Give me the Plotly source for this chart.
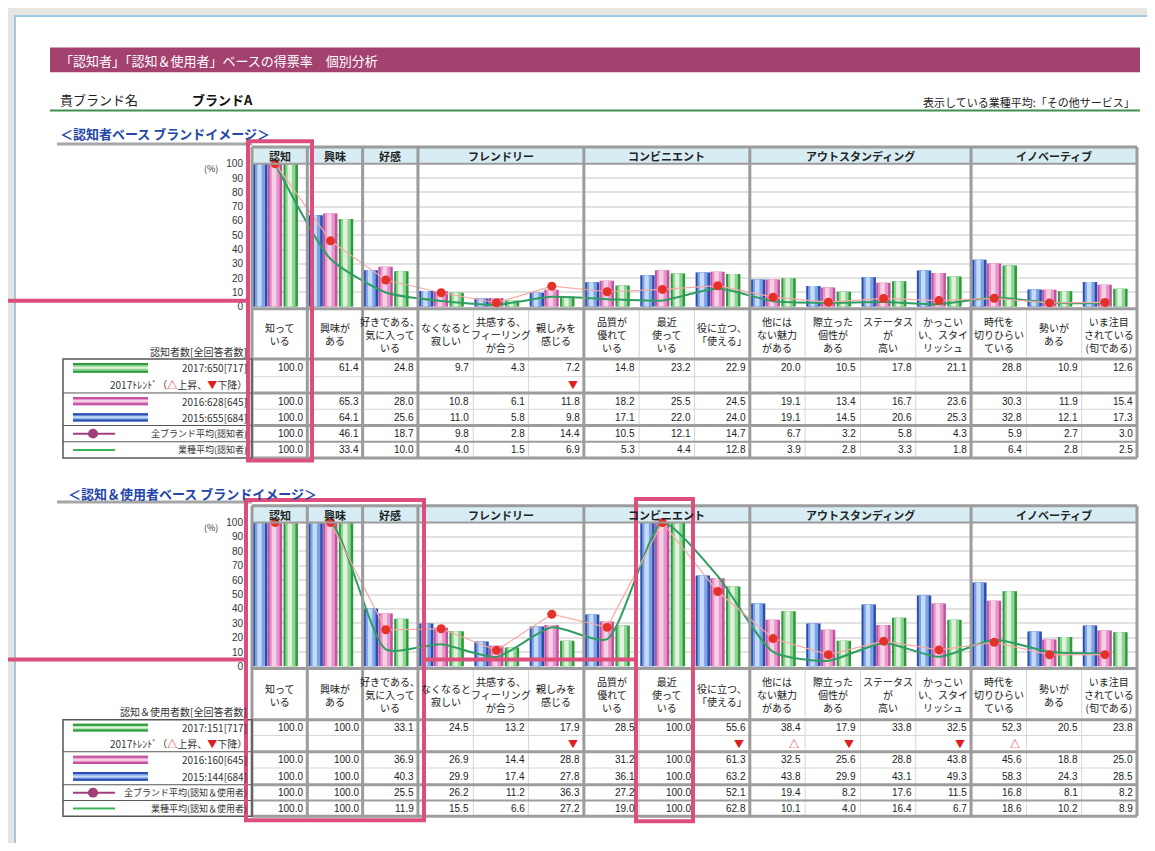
import plotly.graph_objects as go

# ---------------- data ----------------
categories = [
    "知って<br>いる", "興味が<br>ある", "好きである、<br>気に入って<br>いる",
    "なくなると<br>寂しい", "共感する、<br>フィーリング<br>が合う", "親しみを<br>感じる",
    "品質が<br>優れて<br>いる", "最近<br>使って<br>いる", "役に立つ、<br>「使える」",
    "他には<br>ない魅力<br>がある", "際立った<br>個性が<br>ある", "ステータス<br>が<br>高い",
    "かっこい<br>い、スタイ<br>リッシュ",
    "時代を<br>切りひらい<br>ている", "勢いが<br>ある", "いま注目<br>されている<br>(旬である)",
]
groups = ["認知", "興味", "好感", "フレンドリー", "コンビニエント", "アウトスタンディング", "イノベーティブ"]
group_sizes = [1, 1, 1, 3, 3, 4, 3]

# 認知者ベース
aw_2017 = [100.0, 61.4, 24.8, 9.7, 4.3, 7.2, 14.8, 23.2, 22.9, 20.0, 10.5, 17.8, 21.1, 28.8, 10.9, 12.6]
aw_trend = ["", "", "", "", "", "▼", "", "", "", "", "", "", "", "", "", ""]
aw_2016 = [100.0, 65.3, 28.0, 10.8, 6.1, 11.8, 18.2, 25.5, 24.5, 19.1, 13.4, 16.7, 23.6, 30.3, 11.9, 15.4]
aw_2015 = [100.0, 64.1, 25.6, 11.0, 5.8, 9.8, 17.1, 22.0, 24.0, 19.1, 14.5, 20.6, 25.3, 32.8, 12.1, 17.3]
aw_allbrand = [100.0, 46.1, 18.7, 9.8, 2.8, 14.4, 10.5, 12.1, 14.7, 6.7, 3.2, 5.8, 4.3, 5.9, 2.7, 3.0]
aw_industry = [100.0, 33.4, 10.0, 4.0, 1.5, 6.9, 5.3, 4.4, 12.8, 3.9, 2.8, 3.3, 1.8, 6.4, 2.8, 2.5]

# 認知＆使用者ベース
us_2017 = [100.0, 100.0, 33.1, 24.5, 13.2, 17.9, 28.5, 100.0, 55.6, 38.4, 17.9, 33.8, 32.5, 52.3, 20.5, 23.8]
us_trend = ["", "", "", "", "", "▼", "", "", "▼", "△", "▼", "", "▼", "△", "", ""]
us_2016 = [100.0, 100.0, 36.9, 26.9, 14.4, 28.8, 31.2, 100.0, 61.3, 32.5, 25.6, 28.8, 43.8, 45.6, 18.8, 25.0]
us_2015 = [100.0, 100.0, 40.3, 29.9, 17.4, 27.8, 36.1, 100.0, 63.2, 43.8, 29.9, 43.1, 49.3, 58.3, 24.3, 28.5]
us_allbrand = [100.0, 100.0, 25.5, 26.2, 11.2, 36.3, 27.2, 100.0, 52.1, 19.4, 8.2, 17.6, 11.5, 16.8, 8.1, 8.2]
us_industry = [100.0, 100.0, 11.9, 15.5, 6.6, 27.2, 19.0, 100.0, 62.8, 10.1, 4.0, 16.4, 6.7, 18.6, 10.2, 8.9]

aw_legend = ["2017:650[717]", "2017ﾄﾚﾝﾄﾞ（△上昇、▼下降）", "2016:628[645]", "2015:655[684]",
             "全ブランド平均(認知者)", "業種平均(認知者)"]
us_legend = ["2017:151[717]", "2017ﾄﾚﾝﾄﾞ（△上昇、▼下降）", "2016:160[645]", "2015:144[684]",
             "全ブランド平均(認知＆使用者)", "業種平均(認知＆使用者)"]
aw_count_label = "認知者数[全回答者数]"
us_count_label = "認知＆使用者数[全回答者数]"

y_ticks = [0, 10, 20, 30, 40, 50, 60, 70, 80, 90, 100]

# ---------------- geometry helpers ----------------
# the page body adds an 8px margin, so the figure is drawn 8px in and kept inside the window
OX, OY = 8, 8
W, H = 1155 - 2 * OX, 851 - 2 * OY
X0, X1 = 252, 1137
NCOL = len(categories)
CW = (X1 - X0) / NCOL
FONT = "Noto Sans CJK JP"


def px(x):
    return (x - OX) / W


def py(y):
    return 1 - (y - OY) / H


def colx(i):
    return X0 + i * CW


fig = go.Figure()
shapes = []
annots = []


def line(x0, y0, x1, y1, color, width, layer="above"):
    shapes.append(dict(type="line", xref="paper", yref="paper", x0=px(x0), y0=py(y0), x1=px(x1), y1=py(y1),
                       line=dict(color=color, width=width), layer=layer))


def rect(x0, y0, x1, y1, fill=None, lcolor=None, lwidth=0, layer="below"):
    shapes.append(dict(type="rect", xref="paper", yref="paper", x0=px(x0), y0=py(y0), x1=px(x1), y1=py(y1),
                       fillcolor=fill if fill else "rgba(0,0,0,0)",
                       line=dict(color=lcolor if lcolor else "rgba(0,0,0,0)", width=lwidth), layer=layer))


def text(x, y, s, size=10, color="#222", anchor="center", bold=False, family=FONT):
    if bold:
        s = "<b>" + s + "</b>"
    annots.append(dict(xref="paper", yref="paper", x=px(x), y=py(y), text=s, showarrow=False,
                       xanchor=anchor, yanchor="middle", font=dict(size=size, color=color, family=family),
                       align="center"))


# page background
rect(15, 10, 1170, 870, fill="white", lcolor="#9ccbe6", lwidth=2)

# title bar
rect(50, 42, 1140, 67, fill="#a3426f")
text(58, 55, "「認知者」「認知＆使用者」ベースの得票率　個別分析", size=13, color="white", anchor="left")
text(58, 95, "貴ブランド名", size=13, color="#222", anchor="left")
text(190, 95, "ブランドA", size=13, color="#111", anchor="left", bold=True)
text(1137, 97, "表示している業種平均:「その他サービス」", size=11, color="#222", anchor="right")
line(50, 106, 1140, 106, "#3f8f50", 2)

SERIES_COLORS = {
    "blue": ("#2b4cb0", "#7da3e3", "#c6dbf7"),
    "pink": ("#c2529f", "#e597c9", "#f7d0e8"),
    "green": ("#2a9a3c", "#8fd495", "#dff3dc"),
}
BAR_SLOTS = {"blue": 0.02, "pink": 0.285, "green": 0.57}
BAR_W = 0.26
LAYERS = [(0.0, BAR_W, 0), (0.035, 0.18, 1), (0.075, 0.08, 2)]
DOT_X = 0.42


def section(xa, ya, title, title_x, title_y, ul_y, header_top, plot_top, plot_bot, label_top, rows,
            v2017, trend, v2016, v2015, vall, vind, legend_labels, count_label):
    idx = list(range(NCOL))
    # bars
    for key, vals in (("blue", v2015), ("pink", v2016), ("green", v2017)):
        for dx, w, ci in LAYERS:
            fig.add_trace(go.Bar(x=idx, y=vals, offset=BAR_SLOTS[key] + dx, width=w,
                                 marker=dict(color=SERIES_COLORS[key][ci], line=dict(width=0)),
                                 xaxis=xa, yaxis=ya, hoverinfo="skip"))
    xs = [i + DOT_X for i in idx]
    fig.add_trace(go.Scatter(x=xs, y=vind, mode="lines", line=dict(color="#2f9e62", width=2, shape="spline",
                                                                     smoothing=0.6),
                             xaxis=xa, yaxis=ya))
    fig.add_trace(go.Scatter(x=xs, y=vall, mode="lines+markers", line=dict(color="#f7aaa4", width=1.2),
                             marker=dict(color="#e53228", size=9), cliponaxis=False, xaxis=xa, yaxis=ya))

    # section title
    text(title_x, title_y, title, size=13, color="#2446a8", anchor="left", bold=True)
    line(57, ul_y, 252, ul_y, "#a6a6a6", 3)
    text(211, plot_top + 5, "(%)", size=9, color="#333")

    # header
    gb = [0]
    for s in group_sizes:
        gb.append(gb[-1] + s)
    for g, name in enumerate(groups):
        rect(colx(gb[g]), header_top, colx(gb[g + 1]), plot_top, fill="#d7edf3")
        text((colx(gb[g]) + colx(gb[g + 1])) / 2, (header_top + plot_top) / 2 + 0.5, name, size=11,
             color="#222", bold=True)

    bottom = rows[-1]
    gray = "#9c9c9c"
    light = "#d6d6d6"
    # inner vertical lines (table only)
    for i in range(NCOL + 1):
        if i not in gb:
            line(colx(i), label_top, colx(i), bottom, light, 1)
    # horizontal lines
    line(X0, header_top, X1, header_top, gray, 3)
    line(X0, plot_top, X1, plot_top, gray, 2)
    line(X0, plot_bot + 2, X1, plot_bot + 2, gray, 3)
    line(X0, rows[0], X1, rows[0], gray, 3)
    line(X0, rows[1], X1, rows[1], light, 1)
    line(X0, rows[2], X1, rows[2], gray, 3)
    line(X0, rows[3], X1, rows[3], light, 1)
    line(X0, rows[4], X1, rows[4], gray, 3)
    line(X0, rows[5], X1, rows[5], gray, 2)
    line(X0, rows[6], X1, rows[6], gray, 3)
    # group vertical lines
    for b in gb:
        line(colx(b), header_top, colx(b), bottom, gray, 3)

    # category labels
    lab_c = (label_top + rows[0]) / 2
    for i, c in enumerate(categories):
        text(colx(i) + CW / 2, lab_c, c, size=10, color="#222")

    # values
    centers = [(rows[k] + rows[k + 1]) / 2 for k in range(6)]
    for r, vals in ((0, v2017), (2, v2016), (3, v2015), (4, vall), (5, vind)):
        for i, v in enumerate(vals):
            text(colx(i + 1) - 2, centers[r], f"{v:.1f}", size=10, color="#222", anchor="right",
                 family="Liberation Sans")
    for i, t in enumerate(trend):
        if t:
            text(colx(i + 1) - 4, centers[1], t, size=10, color="#e02020", anchor="right")

    # legend table on the left
    LX0 = 63
    rect(LX0, rows[0], X0, rows[6], lcolor="#555", lwidth=1.5, layer="above")
    for k in (2, 4, 5):
        line(LX0, rows[k], X0, rows[k], "#555", 1)
    text(249, rows[0] - 8, count_label, size=10, color="#333", anchor="right")
    for k, lab in enumerate(legend_labels):
        if k == 1:
            lab = lab.replace("△", "<span style='color:#e02020'>△</span>").replace(
                "▼", "<span style='color:#e02020'>▼</span>")
        text(249, centers[k], lab, size=10 if k < 4 else 9, color="#333", anchor="right")
    sw = {0: "green", 2: "pink", 3: "blue"}
    for k, key in sw.items():
        dark, mid, lite = SERIES_COLORS[key]
        y0, y1 = rows[k] + 4, rows[k + 1] - 4
        rect(73, y0, 148, y1, fill=mid, layer="above")
        line(73, y0 + 1, 148, y0 + 1, dark, 2)
        line(73, y1 - 1, 148, y1 - 1, dark, 2)
        line(73, (y0 + y1) / 2, 148, (y0 + y1) / 2, lite, 2)
    line(73, centers[4], 115, centers[4], "#a0407a", 2)
    shapes.append(dict(type="circle", xref="paper", yref="paper", x0=px(88), x1=px(98),
                       y0=py(centers[4] + 5), y1=py(centers[4] - 5), fillcolor="#a0407a",
                       line=dict(width=0), layer="above"))
    line(73, centers[5], 115, centers[5], "#3cb45a", 2)


section("x", "y", "＜認知者ベース ブランドイメージ＞", 58, 129, 140,
        143, 160, 305, 308, [358, 376, 392.5, 409, 425.5, 442, 458.5],
        aw_2017, aw_trend, aw_2016, aw_2015, aw_allbrand, aw_industry, aw_legend, aw_count_label)
section("x2", "y2", "＜認知＆使用者ベース ブランドイメージ＞", 66, 494, 503,
        507, 524, 670, 673, [724, 740, 756.5, 773, 790, 806, 822],
        us_2017, us_trend, us_2016, us_2015, us_allbrand, us_industry, us_legend, us_count_label)

# pink highlight marks
PINK = "#dc4f7c"
rect(248, 137, 312, 461, lcolor=PINK, lwidth=4, layer="above")
line(OX, 299, 248, 299, PINK, 4)
rect(246, 501, 424, 826, lcolor=PINK, lwidth=4, layer="above")
line(OX, 663, 246, 663, PINK, 4)
line(424, 663, 636, 663, PINK, 4)
rect(636, 500, 693, 827, lcolor=PINK, lwidth=4, layer="above")

yaxis_common = dict(range=[0, 100], tickvals=y_ticks, showgrid=True, gridcolor="#e2e2e2", gridwidth=2,
                    zeroline=False, showline=False, ticks="", tickfont=dict(size=10, color="#333",
                                                                            family="Liberation Sans"),
                    ticklabelstandoff=8, fixedrange=True)
xaxis_common = dict(range=[0, NCOL], visible=False, showgrid=False, zeroline=False, fixedrange=True,
                    domain=[px(X0), px(X1)])

fig.update_layout(
    width=W, height=H, margin=dict(l=0, r=0, t=0, b=0),
    paper_bgcolor="#e6e6e3", plot_bgcolor="rgba(0,0,0,0)",
    barmode="overlay", showlegend=False, font=dict(family=FONT),
    xaxis=dict(anchor="y", **xaxis_common),
    xaxis2=dict(anchor="y2", **xaxis_common),
    yaxis=dict(anchor="x", domain=[py(305), py(160)], **yaxis_common),
    yaxis2=dict(anchor="x2", domain=[py(670), py(524)], **yaxis_common),
    shapes=shapes, annotations=annots,
)

fig.write_html("out.html")
